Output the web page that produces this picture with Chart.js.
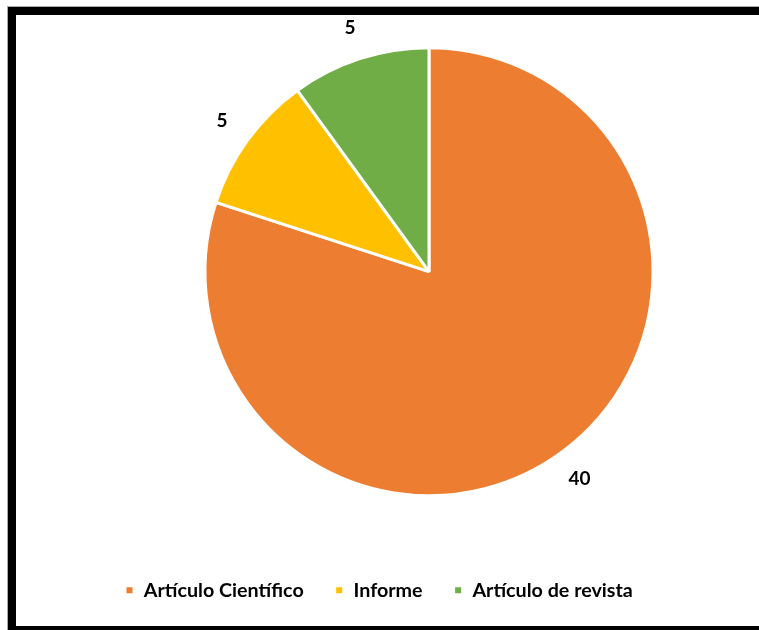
<!DOCTYPE html>
<html>
<head>
<meta charset="utf-8">
<script src="https://cdn.jsdelivr.net/npm/chart.js@4"></script>
<style>
  html, body { margin: 0; padding: 0; background: #fff; overflow: hidden; }
  #frame {
    position: absolute; left: 8px; top: 7px;
    width: 800px; height: 611px;
    border: 8px solid #000;
    box-shadow: 0 0 0 1px #aaa;
  }
  #wrap { position: absolute; left: 0; top: -13px; width: 800px; height: 640px; }
</style>
</head>
<body>
<div id="frame"></div>
<div id="wrap"><canvas id="chart"></canvas></div>
<script>
const categories = ["Artículo Científico", "Informe", "Artículo de revista"];
const values = [40, 5, 5];
const colors = ["#ED7D31", "#FFC000", "#70AD47"];

// valores fuera de cada porción
const outsideLabels = {
    id: "outsideLabels",
    afterDatasetsDraw(chart) {
        const ctx = chart.ctx;
        const meta = chart.getDatasetMeta(0);
        ctx.save();
        ctx.font = "bold 19px Lato";
        ctx.fillStyle = "#000";
        ctx.textAlign = "center";
        ctx.textBaseline = "middle";
        meta.data.forEach((arc, i) => {
            const p = arc.getProps(["x", "y", "startAngle", "endAngle", "outerRadius"], true);
            const mid = (p.startAngle + p.endAngle) / 2;
            const d = p.outerRadius + 32;
            ctx.fillText(values[i], p.x + Math.cos(mid) * d, p.y + Math.sin(mid) * d);
        });
        ctx.restore();
    }
};

new Chart(document.getElementById("chart"), {
    type: "pie",
    data: {
        labels: categories,
        datasets: [{
            data: values,
            backgroundColor: colors,
            borderColor: "#fff",
            borderWidth: 3,
            radius: 224
        }]
    },
    options: {
        responsive: true,
        maintainAspectRatio: false,
        animation: false,
        layout: { padding: { top: 7, left: 94, right: 36, bottom: 17 } },
        plugins: {
            tooltip: { enabled: false },
            legend: {
                position: "bottom",
                align: "start",
                labels: {
                    font: { family: "Lato", size: 19.7, weight: "bold" },
                    color: "#000",
                    boxWidth: 9,
                    boxHeight: 9,
                    padding: 31
                }
            }
        }
    },
    plugins: [outsideLabels]
});
</script>
</body>
</html>
